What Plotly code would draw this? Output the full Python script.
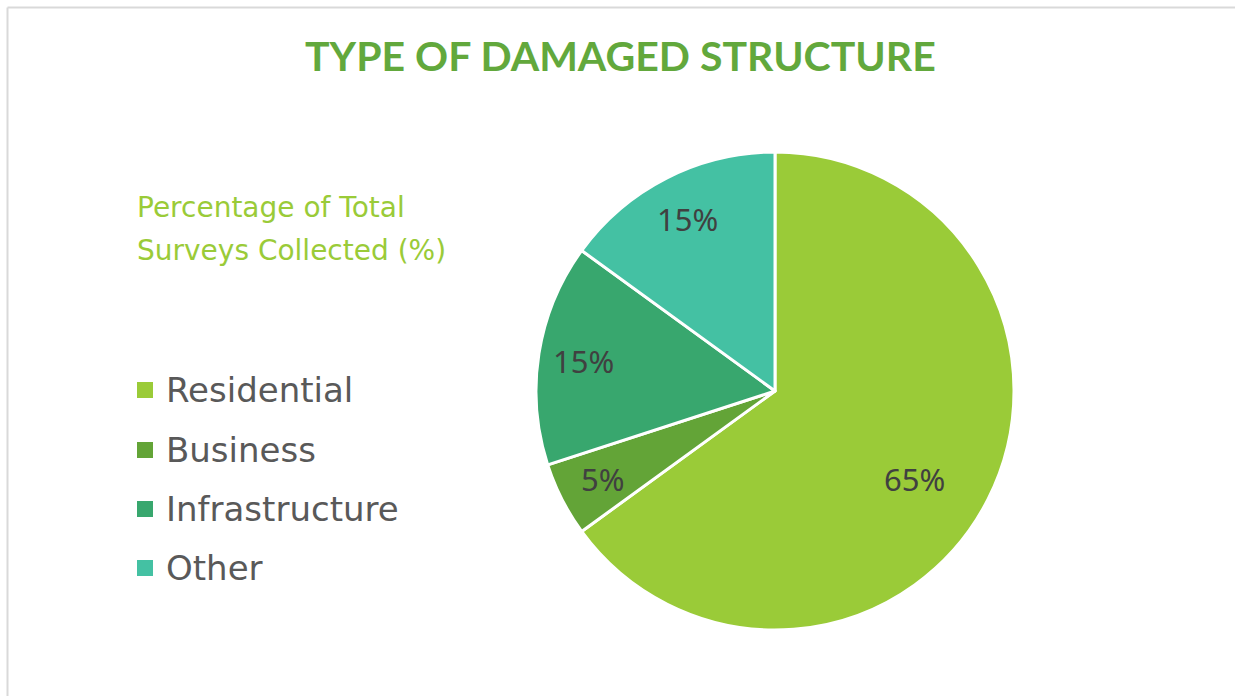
import math
import plotly.graph_objects as go

# Share of surveys by damaged structure type
categories = ["Residential", "Business", "Infrastructure", "Other"]
shares = [65, 5, 15, 15]
colors = ["#9ACB38", "#63A437", "#38A76E", "#44C1A3"]

W, H = 1235, 696
CX, CY, R = 775, 391, 239  # pie centre and radius in pixels


def px_x(x):
    return x / W


def px_y(y):
    return 1 - y / H


fig = go.Figure()
fig.add_trace(go.Pie(
    labels=categories,
    values=shares,
    sort=False,
    direction="clockwise",
    rotation=0,
    marker=dict(colors=colors, line=dict(color="white", width=3)),
    textinfo="none",
    showlegend=False,
    hoverinfo="label+percent",
    domain=dict(x=[px_x(CX - R), px_x(CX + R)], y=[px_y(CY + R), px_y(CY - R)]),
))

annotations = [
    dict(text="TYPE OF DAMAGED STRUCTURE", x=px_x(621), y=px_y(55),
         font=dict(family="Lato", size=41, color="#62A83C", weight="bold")),
    dict(text="Percentage of Total", x=px_x(135), y=px_y(207), xanchor="left",
         font=dict(family="DejaVu Sans", size=28, color="#9ACB38")),
    dict(text="Surveys Collected (%)", x=px_x(135), y=px_y(250), xanchor="left",
         font=dict(family="DejaVu Sans", size=28, color="#9ACB38")),
]

# Percentage labels placed along each slice's mid-angle
total = sum(shares)
cum = 0
for v in shares:
    mid = (cum + v / 2) / total * 2 * math.pi
    cum += v
    rr = 0.81 * R
    annotations.append(dict(
        text=f"{v}%", x=px_x(CX + rr * math.sin(mid)), y=px_y(CY - rr * math.cos(mid)),
        font=dict(family="Noto Sans", size=31, color="#404040"),
    ))

# Legend drawn as swatches and labels down the left side
shapes = []
row_y = [390, 450, 509, 568]
for name, col, yy in zip(categories, colors, row_y):
    shapes.append(dict(type="rect", xref="paper", yref="paper",
                       x0=px_x(137), x1=px_x(153), y0=px_y(yy + 8), y1=px_y(yy - 8),
                       fillcolor=col, line=dict(width=0)))
    annotations.append(dict(text=name, x=px_x(164), y=px_y(yy), xanchor="left",
                            font=dict(family="DejaVu Sans", size=34, color="#595959")))

for a in annotations:
    a.update(xref="paper", yref="paper", showarrow=False, yanchor=a.get("yanchor", "middle"))

# Thin frame along the top and left edges
shapes += [
    dict(type="line", xref="paper", yref="paper", x0=px_x(7.5), x1=1, y0=px_y(7.5), y1=px_y(7.5),
         line=dict(color="#D9D9D9", width=2)),
    dict(type="line", xref="paper", yref="paper", x0=px_x(7.5), x1=px_x(7.5), y0=0, y1=px_y(7.5),
         line=dict(color="#D9D9D9", width=2)),
]

fig.update_layout(
    width=W, height=H,
    margin=dict(l=0, r=0, t=0, b=0),
    paper_bgcolor="white",
    plot_bgcolor="white",
    annotations=annotations,
    shapes=shapes,
)

fig.write_html("out.html")
